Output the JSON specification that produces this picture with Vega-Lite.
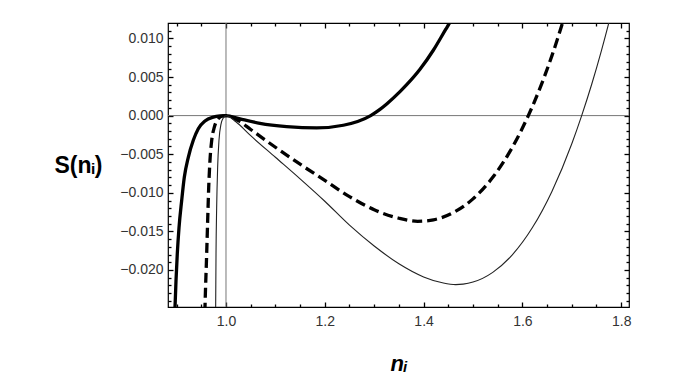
{
  "$schema": "https://vega.github.io/schema/vega-lite/v6.json",
  "width": 461,
  "height": 284,
  "autosize": {"type": "none"},
  "padding": {"left": 168, "top": 23, "right": 62, "bottom": 79},
  "background": "white",
  "config": {
    "view": {"stroke": "#000000", "strokeWidth": 1.2},
    "axis": {
      "grid": false,
      "domain": false,
      "labelFont": "Liberation Sans",
      "titleFont": "Liberation Sans",
      "labelFontSize": 14,
      "labelColor": "#333333",
      "titleColor": "#000000",
      "tickColor": "#000000",
      "tickWidth": 1.3,
      "labelFlush": false,
      "labelOverlap": false
    }
  },
  "data": {
    "values": [
      {"n": 0.894, "S": -0.0275, "curve": "a"},
      {"n": 0.8968, "S": -0.0248, "curve": "a"},
      {"n": 0.8988, "S": -0.0214, "curve": "a"},
      {"n": 0.9014, "S": -0.0179, "curve": "a"},
      {"n": 0.9049, "S": -0.0145, "curve": "a"},
      {"n": 0.9103, "S": -0.011, "curve": "a"},
      {"n": 0.9156, "S": -0.008, "curve": "a"},
      {"n": 0.9237, "S": -0.0054, "curve": "a"},
      {"n": 0.9338, "S": -0.0032, "curve": "a"},
      {"n": 0.9439, "S": -0.0017, "curve": "a"},
      {"n": 0.9575, "S": -0.0007, "curve": "a"},
      {"n": 0.9743, "S": -0.0002, "curve": "a"},
      {"n": 0.988, "S": -0.00004, "curve": "a"},
      {"n": 1.0, "S": 0.0, "curve": "a"},
      {"n": 1.0283, "S": -0.00043, "curve": "a"},
      {"n": 1.0688, "S": -0.001, "curve": "a"},
      {"n": 1.1228, "S": -0.00142, "curve": "a"},
      {"n": 1.1835, "S": -0.0016, "curve": "a"},
      {"n": 1.2375, "S": -0.00125, "curve": "a"},
      {"n": 1.2929, "S": 0.0, "curve": "a"},
      {"n": 1.3117, "S": 0.0008, "curve": "a"},
      {"n": 1.3253, "S": 0.0015, "curve": "a"},
      {"n": 1.3522, "S": 0.0031, "curve": "a"},
      {"n": 1.3658, "S": 0.004, "curve": "a"},
      {"n": 1.3927, "S": 0.006, "curve": "a"},
      {"n": 1.42, "S": 0.0085, "curve": "a"},
      {"n": 1.445, "S": 0.0112, "curve": "a"},
      {"n": 1.4534, "S": 0.0121, "curve": "a"},
      {"n": 1.465, "S": 0.0135, "curve": "a"},

      {"n": 0.9565, "S": -0.0275, "curve": "b"},
      {"n": 0.9575, "S": -0.0248, "curve": "b"},
      {"n": 0.9609, "S": -0.0179, "curve": "b"},
      {"n": 0.9629, "S": -0.0136, "curve": "b"},
      {"n": 0.965, "S": -0.0093, "curve": "b"},
      {"n": 0.9676, "S": -0.0058, "curve": "b"},
      {"n": 0.9711, "S": -0.0032, "curve": "b"},
      {"n": 0.9764, "S": -0.0015, "curve": "b"},
      {"n": 0.9844, "S": -0.0004, "curve": "b"},
      {"n": 0.993, "S": -0.00005, "curve": "b"},
      {"n": 1.0, "S": 0.0, "curve": "b"},
      {"n": 1.025, "S": -0.00065, "curve": "b"},
      {"n": 1.05, "S": -0.0018, "curve": "b"},
      {"n": 1.1, "S": -0.0041, "curve": "b"},
      {"n": 1.15, "S": -0.0063, "curve": "b"},
      {"n": 1.2, "S": -0.0084, "curve": "b"},
      {"n": 1.25, "S": -0.0105, "curve": "b"},
      {"n": 1.3, "S": -0.0122, "curve": "b"},
      {"n": 1.35, "S": -0.0133, "curve": "b"},
      {"n": 1.388, "S": -0.0137, "curve": "b"},
      {"n": 1.42, "S": -0.0135, "curve": "b"},
      {"n": 1.46, "S": -0.01257, "curve": "b"},
      {"n": 1.5, "S": -0.01079, "curve": "b"},
      {"n": 1.54, "S": -0.008, "curve": "b"},
      {"n": 1.58, "S": -0.00407, "curve": "b"},
      {"n": 1.612, "S": 0.0, "curve": "b"},
      {"n": 1.62, "S": 0.00115, "curve": "b"},
      {"n": 1.66, "S": 0.0078, "curve": "b"},
      {"n": 1.7, "S": 0.016, "curve": "b"},

      {"n": 0.9788, "S": -0.0275, "curve": "c"},
      {"n": 0.9791, "S": -0.0248, "curve": "c"},
      {"n": 0.9798, "S": -0.0179, "curve": "c"},
      {"n": 0.9811, "S": -0.0119, "curve": "c"},
      {"n": 0.9831, "S": -0.0067, "curve": "c"},
      {"n": 0.9858, "S": -0.0032, "curve": "c"},
      {"n": 0.9899, "S": -0.0011, "curve": "c"},
      {"n": 0.9946, "S": -0.0003, "curve": "c"},
      {"n": 1.0, "S": 0.0, "curve": "c"},
      {"n": 1.02, "S": -0.0008, "curve": "c"},
      {"n": 1.05, "S": -0.0026, "curve": "c"},
      {"n": 1.1, "S": -0.0054, "curve": "c"},
      {"n": 1.15, "S": -0.0082, "curve": "c"},
      {"n": 1.2, "S": -0.0111, "curve": "c"},
      {"n": 1.25, "S": -0.0142, "curve": "c"},
      {"n": 1.3, "S": -0.0169, "curve": "c"},
      {"n": 1.35, "S": -0.0192, "curve": "c"},
      {"n": 1.4, "S": -0.0209, "curve": "c"},
      {"n": 1.44, "S": -0.0217, "curve": "c"},
      {"n": 1.465, "S": -0.0219, "curve": "c"},
      {"n": 1.48, "S": -0.02184, "curve": "c"},
      {"n": 1.5, "S": -0.02157, "curve": "c"},
      {"n": 1.54, "S": -0.02031, "curve": "c"},
      {"n": 1.58, "S": -0.01801, "curve": "c"},
      {"n": 1.62, "S": -0.01454, "curve": "c"},
      {"n": 1.66, "S": -0.00979, "curve": "c"},
      {"n": 1.7, "S": -0.00365, "curve": "c"},
      {"n": 1.72, "S": 0.0, "curve": "c"},
      {"n": 1.74, "S": 0.004, "curve": "c"},
      {"n": 1.76, "S": 0.00843, "curve": "c"},
      {"n": 1.78, "S": 0.01328, "curve": "c"},
      {"n": 1.79, "S": 0.01586, "curve": "c"}
    ]
  },
  "layer": [
    {
      "data": {"values": [{"S": 0}]},
      "mark": {"type": "rule", "color": "#777777", "strokeWidth": 1},
      "encoding": {
        "y": {"field": "S", "type": "quantitative",
          "scale": {"domain": [-0.0248, 0.012], "nice": false, "zero": false},
          "axis": {"orient": "right", "values": [-0.02, -0.015, -0.01, -0.005, 0, 0.005, 0.01], "tickSize": 5, "offset": -5, "labels": false, "title": null}}
      }
    },
    {
      "data": {"values": [{"n": 1}]},
      "mark": {"type": "rule", "color": "#777777", "strokeWidth": 1},
      "encoding": {
        "x": {"field": "n", "type": "quantitative",
          "scale": {"domain": [0.8826, 1.8158], "nice": false, "zero": false},
          "axis": {"orient": "top", "values": [1, 1.2, 1.4, 1.6, 1.8], "tickSize": 5, "offset": -5, "labels": false, "title": null}}
      }
    },
    {
      "transform": [{"filter": "datum.curve === 'a'"}],
      "mark": {"type": "line", "clip": true, "interpolate": "monotone", "color": "#000000", "strokeWidth": 3.3},
      "encoding": {
        "x": {"field": "n", "type": "quantitative",
          "scale": {"domain": [0.8826, 1.8158], "nice": false, "zero": false},
          "axis": {"orient": "bottom", "values": [1, 1.2, 1.4, 1.6, 1.8], "format": ".1f", "tickSize": 5, "offset": -5, "labelPadding": 7,
            "title": "nᵢ", "titleFontSize": 22, "titleFontWeight": "bold", "titleFontStyle": "italic", "titleBaseline": "middle", "titleY": 61}},
        "y": {"field": "S", "type": "quantitative",
          "scale": {"domain": [-0.0248, 0.012], "nice": false, "zero": false},
          "axis": {"orient": "left", "values": [-0.02, -0.015, -0.01, -0.005, 0, 0.005, 0.01], "format": ".3f", "tickSize": 5, "offset": -5, "labelPadding": 5,
            "title": "S(nᵢ)", "titleAngle": 0, "titleX": -95, "titleY": 142, "titleAlign": "center", "titleBaseline": "middle", "titleFontSize": 23, "titleFontWeight": "bold"}}
      }
    },
    {
      "transform": [{"filter": "datum.curve === 'b'"}],
      "mark": {"type": "line", "clip": true, "interpolate": "monotone", "color": "#000000", "strokeWidth": 3.3, "strokeDash": [10, 5]},
      "encoding": {
        "x": {"field": "n", "type": "quantitative",
          "scale": {"domain": [0.8826, 1.8158], "nice": false, "zero": false},
          "axis": {"orient": "top", "values": [0.9, 0.95, 1.05, 1.1, 1.15, 1.25, 1.3, 1.35, 1.45, 1.5, 1.55, 1.65, 1.7, 1.75], "tickSize": 3, "offset": -3, "labels": false, "title": null}},
        "y": {"field": "S", "type": "quantitative",
          "scale": {"domain": [-0.0248, 0.012], "nice": false, "zero": false},
          "axis": {"orient": "right", "values": [-0.024, -0.023, -0.022, -0.021, -0.019, -0.018, -0.017, -0.016, -0.014, -0.013, -0.012, -0.011, -0.009, -0.008, -0.007, -0.006, -0.004, -0.003, -0.002, -0.001, 0.001, 0.002, 0.003, 0.004, 0.006, 0.007, 0.008, 0.009, 0.011], "tickSize": 3, "offset": -3, "labels": false, "title": null}}
      }
    },
    {
      "transform": [{"filter": "datum.curve === 'c'"}],
      "mark": {"type": "line", "clip": true, "interpolate": "monotone", "color": "#222222", "strokeWidth": 1.1},
      "encoding": {
        "x": {"field": "n", "type": "quantitative",
          "scale": {"domain": [0.8826, 1.8158], "nice": false, "zero": false},
          "axis": {"orient": "bottom", "values": [0.9, 0.95, 1.05, 1.1, 1.15, 1.25, 1.3, 1.35, 1.45, 1.5, 1.55, 1.65, 1.7, 1.75], "tickSize": 3, "offset": -3, "labels": false, "title": null}},
        "y": {"field": "S", "type": "quantitative",
          "scale": {"domain": [-0.0248, 0.012], "nice": false, "zero": false},
          "axis": {"orient": "left", "values": [-0.024, -0.023, -0.022, -0.021, -0.019, -0.018, -0.017, -0.016, -0.014, -0.013, -0.012, -0.011, -0.009, -0.008, -0.007, -0.006, -0.004, -0.003, -0.002, -0.001, 0.001, 0.002, 0.003, 0.004, 0.006, 0.007, 0.008, 0.009, 0.011], "tickSize": 3, "offset": -3, "labels": false, "title": null}}
      }
    }
  ],
  "resolve": {"axis": {"x": "independent", "y": "independent"}}
}
